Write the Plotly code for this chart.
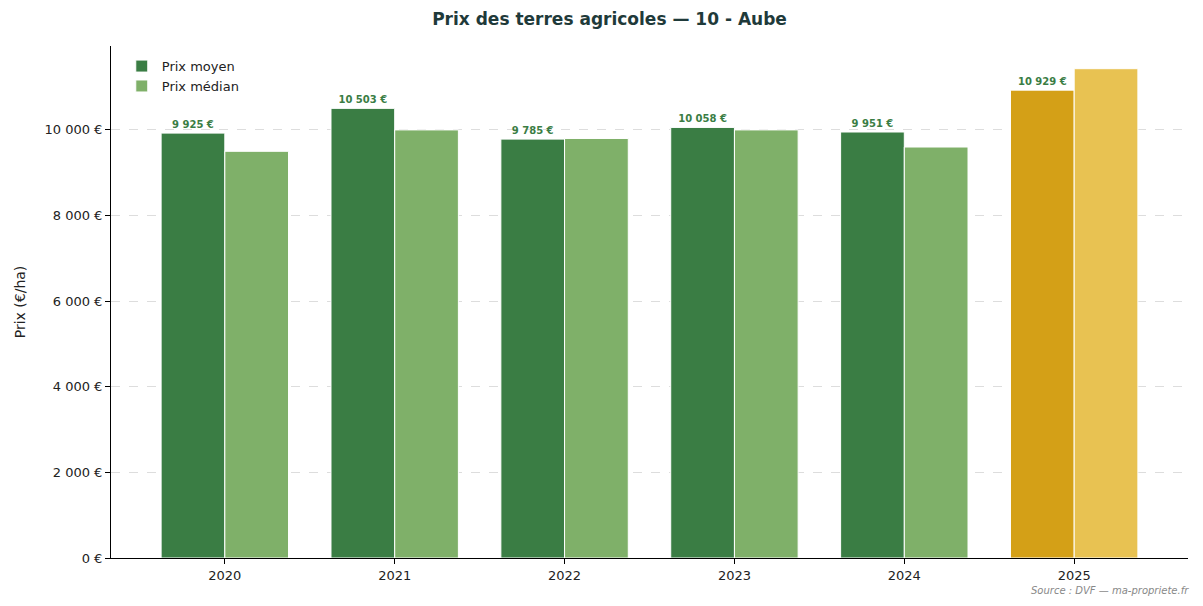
import plotly.graph_objects as go

years = ["2020", "2021", "2022", "2023", "2024", "2025"]
prix_moyen = [9925, 10503, 9785, 10058, 9951, 10929]
prix_median = [9500, 10000, 9800, 10000, 9600, 11430]
ytick_vals = [0, 2000, 4000, 6000, 8000, 10000]

def fr(v):
    return f"{v:,}".replace(",", " ") + " €"

c_moy = ["#3a7d44"] * 5 + ["#d4a017"]
c_med = ["#7fb069"] * 5 + ["#e8c252"]

fig = go.Figure()
fig.add_bar(x=years, y=prix_moyen, name="Prix moyen", marker=dict(color=c_moy, line=dict(color="white", width=1)),
            text=["<b>" + fr(v) + "</b>" for v in prix_moyen], textposition="outside",
            textfont=dict(size=10, color="#3a7d44", family="DejaVu Sans"), cliponaxis=False)
fig.add_bar(x=years, y=prix_median, name="Prix médian", marker=dict(color=c_med, line=dict(color="white", width=1)))

fig.update_layout(
    width=1203, height=606, barmode="group", bargap=0.25, bargroupgap=0.0,
    plot_bgcolor="white", paper_bgcolor="white",
    font=dict(family="DejaVu Sans", size=13, color="#222"),
    title=dict(text="<b>Prix des terres agricoles — 10 - Aube</b>", x=0.5, xanchor="center", y=0.982, yanchor="middle",
               font=dict(size=17, color="#1f3a3a")),
    margin=dict(l=95, r=23, t=38, b=56),
    showlegend=True,
    legend=dict(x=0.01, y=0.99, xanchor="left", yanchor="top", bgcolor="rgba(255,255,255,0.8)", font=dict(size=13)),
    uniformtext=dict(minsize=9, mode="show"),
)
fig.update_xaxes(range=[-0.67, 5.67], showline=True, linecolor="black", ticks="outside", tickcolor="black", tickfont=dict(size=13))
fig.update_yaxes(range=[0, 11960], tickvals=ytick_vals, ticktext=[fr(v) for v in ytick_vals],
                 showline=True, linecolor="black", ticks="outside", tickcolor="black",
                 showgrid=True, gridcolor="#dddddd", griddash="dash", zeroline=False,
                 title=dict(text="Prix (€/ha)", font=dict(size=14)), tickfont=dict(size=13))
fig.add_annotation(text="<i>Source : DVF — ma-propriete.fr</i>", xref="paper", yref="paper",
                   x=1.003, y=-0.0625, xanchor="right", yanchor="middle", showarrow=False,
                   font=dict(size=10, color="#888"))
fig.write_html("out.html")
